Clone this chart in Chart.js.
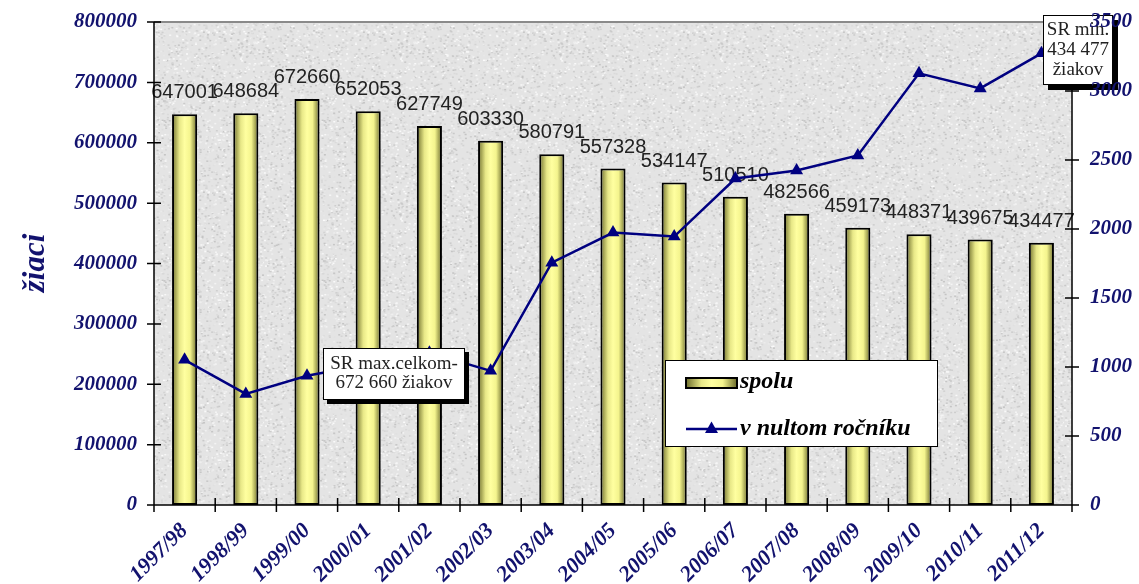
<!DOCTYPE html>
<html>
<head>
<meta charset="utf-8">
<script src="https://cdn.jsdelivr.net/npm/chart.js@4.4.1/dist/chart.umd.min.js"></script>
<style>
  html, body { margin: 0; padding: 0; background: #fff; }
  #wrap { width: 1139px; height: 584px; }
</style>
</head>
<body>
<div id="wrap"><canvas id="chart" width="1139" height="584"></canvas></div>
<script>
const years = ["1997/98","1998/99","1999/00","2000/01","2001/02","2002/03","2003/04","2004/05","2005/06","2006/07","2007/08","2008/09","2009/10","2010/11","2011/12"];
const totalPupils = [647001, 648684, 672660, 652053, 627749, 603330, 580791, 557328, 534147, 510510, 482566, 459173, 448371, 439675, 434477];
const zeroGrade = [1052, 805, 936, 1020, 1103, 972, 1756, 1974, 1945, 2366, 2424, 2533, 3128, 3019, 3273];
const leftTicks = [0, 100000, 200000, 300000, 400000, 500000, 600000, 700000, 800000];
const rightTicks = [0, 500, 1000, 1500, 2000, 2500, 3000, 3500];
const seriesNames = ["spolu", "v nultom ročníku"];
const axisTitle = "žiaci";
const noteMax = ["SR max.celkom-", "672 660 žiakov"];
const noteMin = ["SR min.", "434 477", "žiakov"];

const navy = "#12126e";
const tickFont = { family: "Liberation Serif", size: 21, weight: "bold", style: "italic" };
const barPct = 0.41;

function barGradient(g, x0, x1) {
  const gr = g.createLinearGradient(x0, 0, x1, 0);
  gr.addColorStop(0, "#6e6e2c");
  gr.addColorStop(0.3, "#e8e888");
  gr.addColorStop(0.5, "#ffffa0");
  gr.addColorStop(0.72, "#f4f48e");
  gr.addColorStop(1, "#6a6a2a");
  return gr;
}

// granite-like plot background
function makeTexture() {
  const c = document.createElement("canvas");
  c.width = 160; c.height = 160;
  const g = c.getContext("2d");
  g.fillStyle = "#e4e4e4";
  g.fillRect(0, 0, 160, 160);
  for (let i = 0; i < 2600; i++) {
    const h = Math.abs(Math.sin(i * 12.9898) * 43758.5453) % 1;
    const k = Math.abs(Math.sin(i * 78.233) * 24634.6345) % 1;
    const m = Math.abs(Math.sin(i * 39.425) * 15731.743) % 1;
    const v = 196 + Math.floor(m * 56);
    g.fillStyle = `rgb(${v},${v},${v})`;
    g.fillRect(h * 160, k * 160, 2, 1.5);
  }
  return c;
}
const texture = makeTexture();

function noteBox(g, x, y, w, h, lines, lh, shadow) {
  g.save();
  g.fillStyle = "#000";
  g.fillRect(x + shadow, y + shadow, w, h);
  g.fillStyle = "#fff";
  g.fillRect(x, y, w, h);
  g.strokeStyle = "#000";
  g.lineWidth = 1;
  g.strokeRect(x + 0.5, y + 0.5, w - 1, h - 1);
  g.fillStyle = "#222";
  g.font = '19px "Liberation Serif"';
  g.textAlign = "center";
  g.textBaseline = "alphabetic";
  const top = y + (h - lh * lines.length) / 2;
  lines.forEach((t, i) => g.fillText(t, x + w / 2, top + lh * (i + 1) - 5));
  g.restore();
}

function noPad(s) {
  s.paddingTop = 0; s.paddingBottom = 0; s.paddingLeft = 0; s.paddingRight = 0;
}

const decor = {
  id: "decor",
  beforeDraw(chart) {
    const g = chart.ctx, a = chart.chartArea;
    g.save();
    g.fillStyle = g.createPattern(texture, "repeat");
    g.fillRect(a.left, a.top, a.right - a.left, a.bottom - a.top);
    // y title
    g.translate(36, 263);
    g.rotate(-Math.PI / 2);
    g.fillStyle = navy;
    g.font = 'italic bold 31px "Liberation Serif"';
    g.textAlign = "center";
    g.textBaseline = "middle";
    g.fillText(axisTitle, 0, 0);
    g.restore();
  },
  afterDatasetDraw(chart, args) {
    if (args.index !== 1) return;
    const g = chart.ctx;
    g.save();
    g.fillStyle = "#222";
    g.font = '20px "Liberation Sans"';
    g.textAlign = "center";
    g.textBaseline = "alphabetic";
    args.meta.data.forEach((bar, i) => g.fillText(String(totalPupils[i]), bar.x, bar.y - 16));
    g.restore();
  },
  afterDatasetsDraw(chart) {
    const g = chart.ctx, a = chart.chartArea;
    const ys = chart.scales.y, y1 = chart.scales.y1;
    g.save();
    // frame
    g.strokeStyle = "#8a8a8a";
    g.lineWidth = 2;
    g.beginPath(); g.moveTo(a.left, a.top); g.lineTo(a.right, a.top); g.stroke();
    g.strokeStyle = "#000";
    g.lineWidth = 1.5;
    g.beginPath();
    g.moveTo(a.left, a.top); g.lineTo(a.left, a.bottom);
    g.moveTo(a.right, a.top); g.lineTo(a.right, a.bottom);
    g.moveTo(a.left, a.bottom); g.lineTo(a.right, a.bottom);
    leftTicks.forEach(v => { const y = ys.getPixelForValue(v); g.moveTo(a.left - 7, y); g.lineTo(a.left + 7, y); });
    rightTicks.forEach(v => { const y = y1.getPixelForValue(v); g.moveTo(a.right - 7, y); g.lineTo(a.right + 7, y); });
    for (let i = 0; i <= years.length; i++) {
      const x = a.left + i * (a.right - a.left) / years.length;
      g.moveTo(x, a.bottom - 7); g.lineTo(x, a.bottom + 7);
    }
    g.stroke();

    // legend
    const lx = 665, ly = 360, lw = 272, lh = 86;
    g.fillStyle = "#fff";
    g.fillRect(lx, ly, lw, lh);
    g.strokeStyle = "#000";
    g.lineWidth = 1;
    g.strokeRect(lx + 0.5, ly + 0.5, lw, lh);
    g.fillStyle = barGradient(g, 686, 737);
    g.fillRect(686, 378, 51, 10);
    g.lineWidth = 2;
    g.strokeRect(686, 378, 51, 10);
    g.strokeStyle = "#000080";
    g.lineWidth = 2.5;
    g.beginPath(); g.moveTo(686, 429); g.lineTo(737, 429); g.stroke();
    g.fillStyle = "#000080";
    g.beginPath(); g.moveTo(711.5, 421.5); g.lineTo(718, 433); g.lineTo(705, 433); g.closePath(); g.fill();
    g.fillStyle = "#000";
    g.font = 'italic bold 24px "Liberation Serif"';
    g.textAlign = "left";
    g.textBaseline = "middle";
    g.fillText(seriesNames[0], 740, 382);
    g.fillText(seriesNames[1], 740, 429);

    // notes
    noteBox(g, 323, 348, 142, 52, noteMax, 19, 4);
    noteBox(g, 1043, 15, 70, 70, noteMin, 20, 5);
    g.restore();
  }
};

new Chart(document.getElementById("chart"), {
  data: {
    labels: years,
    datasets: [
      {
        type: "line",
        label: seriesNames[1],
        data: zeroGrade,
        yAxisID: "y1",
        borderColor: "#000080",
        borderWidth: 2.5,
        backgroundColor: "#000080",
        pointStyle: "triangle",
        pointRadius: 7.5,
        pointBorderWidth: 0,
        tension: 0
      },
      {
        type: "bar",
        label: seriesNames[0],
        data: totalPupils,
        yAxisID: "y",
        borderColor: "#000",
        borderWidth: 2,
        borderSkipped: false,
        barPercentage: barPct,
        categoryPercentage: 1,
        backgroundColor: ctx => {
          const xs = ctx.chart.scales.x;
          if (!xs || ctx.type !== "data") return "#ffff99";
          const cx = xs.getPixelForValue(ctx.dataIndex);
          const w = xs.width / years.length * barPct;
          if (!Number.isFinite(cx) || !Number.isFinite(w) || w <= 0) return "#ffff99";
          return barGradient(ctx.chart.ctx, cx - w / 2, cx + w / 2);
        }
      }
    ]
  },
  options: {
    responsive: false,
    animation: false,
    devicePixelRatio: 1,
    layout: { padding: { top: 22, left: 0, right: 0, bottom: 0 } },
    plugins: { legend: { display: false }, tooltip: { enabled: false } },
    scales: {
      x: {
        offset: true,
        grid: { display: false, drawTicks: false },
        border: { display: false },
        ticks: { color: navy, font: { ...tickFont, size: 22 }, minRotation: 45, maxRotation: 45, autoSkip: false, padding: 13 },
        afterFit: s => { s.height = 79; noPad(s); }
      },
      y: {
        position: "left",
        min: 0, max: 800000,
        grid: { display: false, drawTicks: false },
        border: { display: false },
        afterBuildTicks: s => { s.ticks = leftTicks.map(v => ({ value: v })); },
        ticks: { color: navy, font: tickFont, padding: 17, callback: v => String(v) },
        afterFit: s => { s.width = 154; noPad(s); }
      },
      y1: {
        position: "right",
        min: 0, max: 3500,
        grid: { display: false, drawTicks: false },
        border: { display: false },
        afterBuildTicks: s => { s.ticks = rightTicks.map(v => ({ value: v })); },
        ticks: { z: 1, color: navy, font: tickFont, padding: 18, callback: v => String(v) },
        afterFit: s => { s.width = 67; noPad(s); }
      }
    }
  },
  plugins: [decor]
});
</script>
</body>
</html>
